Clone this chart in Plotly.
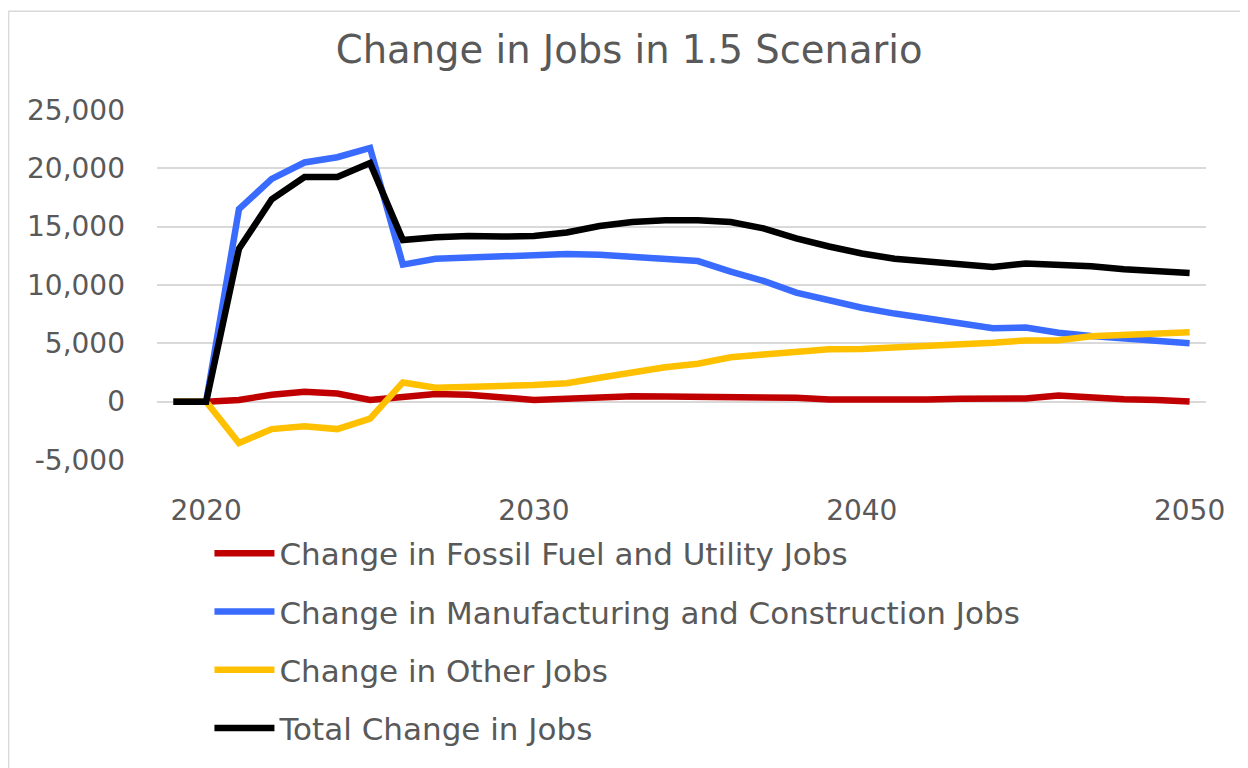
import plotly.graph_objects as go

years = list(range(2019, 2051))

fossil = [0, 0, 150, 600, 850, 700, 150, 450, 650, 600, 330, 150, 250, 420, 470, 450,
          400, 420, 420, 330, 180, 150, 160, 190, 240, 280, 280, 530, 330, 200, 150, 20]
manuf = [0, 0, 16500, 19100, 20500, 20950, 21750, 11750, 12250, 12350, 12500, 12650,
         12650, 12600, 12450, 12250, 12050, 11150, 10350, 9350, 8650, 8050, 7550, 7100,
         6700, 6300, 6350, 5900, 5620, 5400, 5200, 5000]
other = [0, 0, -3550, -2350, -2100, -2350, -1450, 1650, 1200, 1220, 1350, 1420, 1580,
         2050, 2550, 2950, 3250, 3800, 4050, 4300, 4500, 4520, 4620, 4780, 4920, 5050,
         5250, 5260, 5600, 5750, 5830, 5950]
total = [0, 0, 13100, 17350, 19250, 19250, 20450, 13850, 14100, 14200, 14150, 14200,
         14500, 15050, 15400, 15550, 15550, 15400, 14850, 14000, 13300, 12700, 12250,
         12000, 11800, 11550, 11850, 11750, 11600, 11350, 11170, 11020]

series_names = ["Change in Fossil Fuel and Utility Jobs",
                "Change in Manufacturing and Construction Jobs",
                "Change in Other Jobs",
                "Total Change in Jobs"]
series_values = [fossil, manuf, other, total]
colors = ["#C00000", "#3A6BFF", "#FFC000", "#000000"]

x_ticks = [2020, 2030, 2040, 2050]
y_ticks = [-5000, 0, 5000, 10000, 15000, 20000, 25000]
y_ticktext = [f"{v:,}" for v in y_ticks]

FONT = "DejaVu Sans"
GRAY = "#595959"

fig = go.Figure()
for i, (name, vals, col) in enumerate(zip(series_names, series_values, colors)):
    fig.add_trace(go.Scatter(
        x=years, y=vals, name=name, mode="lines",
        line=dict(color=col, width=6.5),
        legendgroup=f"g{i}",
    ))

fig.update_layout(
    width=1240, height=760,
    margin=dict(l=149, r=42, t=102, b=299),
    paper_bgcolor="white", plot_bgcolor="white",
    title=dict(text="Change in Jobs in 1.5 Scenario", xref="container", x=0.501,
               xanchor="center", yref="container", y=1 - 42 / 760, yanchor="middle",
               font=dict(family=FONT, size=38.5, color=GRAY)),
    xaxis=dict(range=[2018.5, 2050.5], tickvals=x_ticks, showgrid=False,
               zeroline=False, showline=False, ticks="",
               ticklabelstandoff=31,
               tickfont=dict(family=FONT, size=28, color=GRAY)),
    yaxis=dict(range=[-5000, 25000], tickvals=y_ticks, ticktext=y_ticktext,
               showgrid=True, gridcolor="#D9D9D9", gridwidth=1.5,
               zeroline=False, showline=False, ticks="",
               ticklabelstandoff=31,
               tickfont=dict(family=FONT, size=28, color=GRAY)),
    showlegend=True,
    legend=dict(orientation="v", x=0.05, xanchor="left", y=-0.19, yanchor="top",
                traceorder="grouped", tracegroupgap=15, itemwidth=60,
                font=dict(family=FONT, size=31, color=GRAY),
                bgcolor="rgba(0,0,0,0)"),
    shapes=[dict(type="rect", xref="paper", yref="paper",
                 x0=-0.1415, x1=1.2, y0=-1.0, y1=1.2825,
                 line=dict(color="#D9D9D9", width=1.5), fillcolor="rgba(0,0,0,0)",
                 layer="below")],
)

fig.write_html("out.html")
